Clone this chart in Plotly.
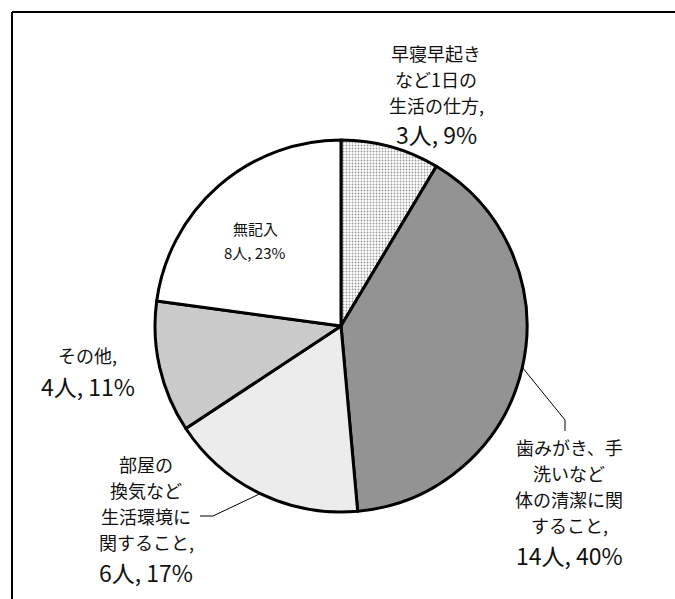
import math
import plotly.graph_objects as go

# --- data ---------------------------------------------------------------
categories = [
    "早寝早起きなど1日の生活の仕方",
    "歯みがき、手洗いなど体の清潔に関すること",
    "部屋の換気など生活環境に関すること",
    "その他",
    "無記入",
]
counts = [3, 14, 6, 4, 8]
percents = [9, 40, 17, 11, 23]

label_heads = [
    ["早寝早起き", "など1日の", "生活の仕方,"],
    ["歯みがき、手", "洗いなど", "体の清潔に関", "すること,"],
    ["部屋の", "換気など", "生活環境に", "関すること,"],
    ["その他,"],
    ["無記入"],
]

# --- geometry helpers (pixel -> paper) ------------------------------------
W, H = 675, 599
CX, CY, R = 341, 326, 186


def px(x):
    return x / W


def py(y):
    return 1 - y / H


FONT = "Noto Sans CJK JP, sans-serif"

fig = go.Figure()

fig.add_trace(go.Pie(
    labels=categories,
    values=counts,
    sort=False,
    direction="clockwise",
    rotation=0,
    textinfo="none",
    hoverinfo="label+value+percent",
    domain=dict(x=[px(CX - R), px(CX + R)], y=[py(CY + R), py(CY - R)]),
    marker=dict(
        colors=["#ffffff", "#d8d8d8", "#ffffff", "#ffffff", "#ffffff"],
        line=dict(color="#000000", width=3),
        pattern=dict(
            shape=[".", ".", "|", "|", ""],
            fgcolor=["#9a9a9a", "#3c3c3c", "#dadada", "#8a8a8a", "#ffffff"],
            bgcolor=["#ffffff", "#d8d8d8", "#ffffff", "#ffffff", "#ffffff"],
            size=[3, 2, 2, 2, 4],
            solidity=[0.3, 0.5, 0.5, 0.45, 0.1],
            fillmode="replace",
        ),
    ),
    showlegend=False,
))

# --- labels ---------------------------------------------------------------
# (center x, y-center of first head line, head line pitch, y-center of count
#  line, head font size, count font size)
label_layout = [
    (436, 53, 26, 134, 18, 23),
    (569, 447, 26, 555, 18, 23),
    (146, 464, 26, 572, 18, 23),
    (88, 355, 26, 386, 18, 23),
    (255, 228, 24, 252, 15, 15),
]

annotations = []
for heads, n, p, (lx, y0, pitch, y_count, fs_head, fs_count) in zip(
        label_heads, counts, percents, label_layout):
    for i, txt in enumerate(heads):
        annotations.append(dict(
            x=px(lx), y=py(y0 + i * pitch), xref="paper", yref="paper",
            text=txt, showarrow=False,
            xanchor="center", yanchor="middle", borderpad=0,
            font=dict(family=FONT, size=fs_head, color="#111111"),
        ))
    annotations.append(dict(
        x=px(lx), y=py(y_count), xref="paper", yref="paper",
        text=f"{n}人, {p}%", showarrow=False,
        xanchor="center", yanchor="middle", borderpad=0,
        font=dict(family=FONT, size=fs_count, color="#111111"),
    ))

# --- leader lines from slice mid-angles -------------------------------------
total = sum(counts)
cum = 0
mids = []
for v in counts:
    mids.append((cum + v / 2) / total * 2 * math.pi)
    cum += v


def edge_point(theta):
    return CX + R * math.sin(theta), CY - R * math.cos(theta)


shapes = []
line_style = dict(color="#000000", width=1)

# 歯みがき... leader
sx, sy = edge_point(mids[1])
for (x0, y0, x1, y1) in [(sx, sy, 565, 420), (565, 420, 565, 431)]:
    shapes.append(dict(type="line", xref="paper", yref="paper",
                       x0=px(x0), y0=py(y0), x1=px(x1), y1=py(y1), line=line_style))

# 部屋の換気... leader
sx, sy = edge_point(mids[2])
for (x0, y0, x1, y1) in [(sx, sy, 213, 516), (213, 516, 200, 516)]:
    shapes.append(dict(type="line", xref="paper", yref="paper",
                       x0=px(x0), y0=py(y0), x1=px(x1), y1=py(y1), line=line_style))

# chart frame (top and left edges visible)
frame = dict(color="#000000", width=2)
shapes.append(dict(type="line", xref="paper", yref="paper",
                   x0=px(12), y0=py(12), x1=1.0, y1=py(12), line=frame))
shapes.append(dict(type="line", xref="paper", yref="paper",
                   x0=px(12), y0=py(12), x1=px(12), y1=0.0, line=frame))

fig.update_layout(
    width=W, height=H,
    margin=dict(l=0, r=0, t=0, b=0),
    paper_bgcolor="#ffffff",
    plot_bgcolor="#ffffff",
    annotations=annotations,
    shapes=shapes,
    font=dict(family=FONT),
)

fig.write_html("out.html")
